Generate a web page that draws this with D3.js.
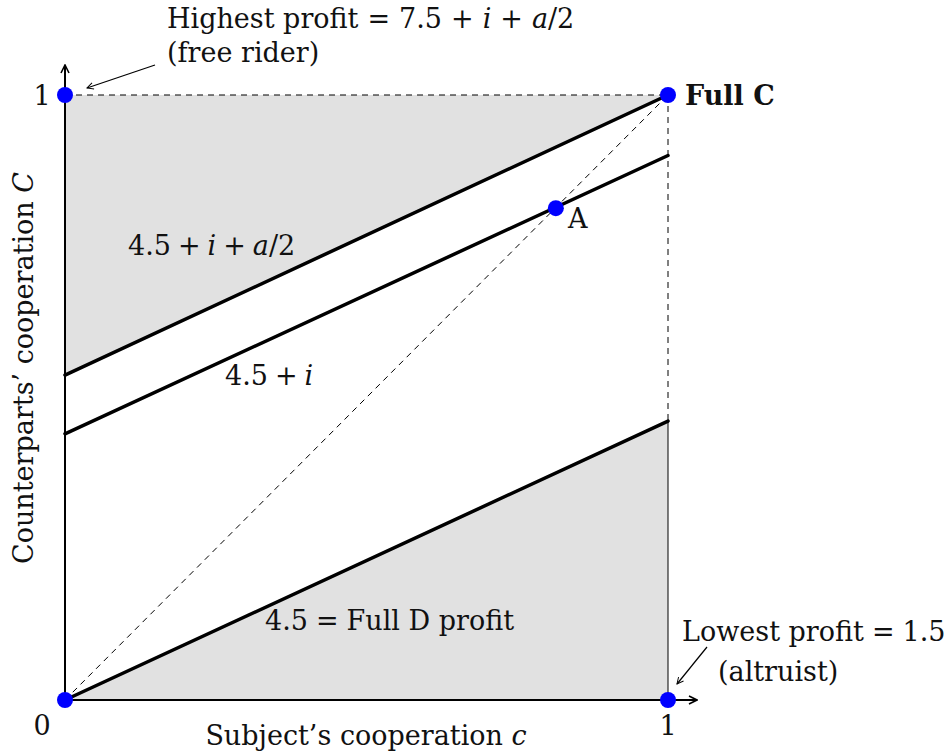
<!DOCTYPE html>
<html>
<head>
<meta charset="utf-8">
<script src="https://cdn.jsdelivr.net/npm/d3@7"></script>
<style>
  body { margin: 0; background: #fff; }
  text { font-family: "DejaVu Serif", "Liberation Serif", serif; fill: #111; }
</style>
</head>
<body>
<div class="chart"></div>
<script>
// boundary lines (profit levels): value of C at c = 0 and at c = 1
const lineNames = ["4.5 + i + a/2", "4.5 + i", "4.5"]
const lineStart = [0.537, 0.44, 0]
const lineEnd = [1, 0.9, 0.461]

// marked points
const pointC = [0, 1, 0, 1, 0.814]
const pointCC = [1, 1, 0, 0, 0.813]

const xTicks = [0, 1]
const yTicks = [1]

const width = 947
const height = 755
const fs = 27

const svg = d3.select('.chart').append('svg')
    .attr("width", width)
    .attr("height", height)

const x = d3.scaleLinear().domain([0, 1]).range([65, 668])
const y = d3.scaleLinear().domain([0, 1]).range([700, 95])

const line = d3.line().x(d => x(d[0])).y(d => y(d[1]))

// arrow marker
const defs = svg.append("defs")
defs.append("marker")
    .attr("id", "arr")
    .attr("viewBox", "0 0 10 10")
    .attr("refX", 9).attr("refY", 5)
    .attr("markerWidth", 10).attr("markerHeight", 10)
    .attr("markerUnits", "userSpaceOnUse")
    .attr("orient", "auto")
    .append("path")
    .attr("d", "M1,1 L9,5 L1,9")
    .attr("fill", "none")
    .attr("stroke", "#000")
    .attr("stroke-width", 1.6)
defs.append("marker")
    .attr("id", "arrs")
    .attr("viewBox", "0 0 10 10")
    .attr("refX", 9).attr("refY", 5)
    .attr("markerWidth", 8).attr("markerHeight", 8)
    .attr("markerUnits", "userSpaceOnUse")
    .attr("orient", "auto")
    .append("path")
    .attr("d", "M1,1 L9,5 L1,9")
    .attr("fill", "none")
    .attr("stroke", "#000")
    .attr("stroke-width", 1.2)

// SHADED REGIONS
svg.append("path")
    .attr("d", line([[0, lineStart[0]], [0, 1], [1, 1], [1, lineEnd[0]]]) + "Z")
    .attr("fill", "#e1e1e1")
svg.append("path")
    .attr("d", line([[0, lineStart[2]], [1, 0], [1, lineEnd[2]]]) + "Z")
    .attr("fill", "#e1e1e1")

// right edge of lower region (solid)
svg.append("path")
    .attr("d", line([[1, 0], [1, lineEnd[2]]]))
    .attr("stroke", "#000").attr("stroke-width", 1)

// DASHED GUIDES
const dashed = [
    [[0, 0], [1, 1]],
    [[0, 1], [1, 1]],
    [[1, 1], [1, lineEnd[2]]]
]
svg.append("g").selectAll("path")
    .data(dashed)
    .join("path")
    .attr("d", d => line(d))
    .attr("fill", "none")
    .attr("stroke", "#000")
    .attr("stroke-width", 1)
    .attr("stroke-dasharray", "6,5")

// AXES
svg.append("line")
    .attr("x1", x(0)).attr("y1", y(0))
    .attr("x2", x(1) + 29).attr("y2", y(0))
    .attr("stroke", "#000").attr("stroke-width", 2)
    .attr("marker-end", "url(#arr)")
svg.append("line")
    .attr("x1", x(0)).attr("y1", y(0))
    .attr("x2", x(0)).attr("y2", y(1) - 30)
    .attr("stroke", "#000").attr("stroke-width", 2)
    .attr("marker-end", "url(#arr)")

// BOUNDARY LINES
svg.append("g").selectAll("path")
    .data(lineNames)
    .join("path")
    .attr("d", (d, i) => line([[0, lineStart[i]], [1, lineEnd[i]]]))
    .attr("stroke", "#000")
    .attr("stroke-width", 3.5)
    .attr("stroke-linecap", "round")

// POINTS
svg.append("g").selectAll("circle")
    .data(pointC)
    .join("circle")
    .attr("cx", d => x(d))
    .attr("cy", (d, i) => y(pointCC[i]))
    .attr("r", 8)
    .attr("fill", "#0000ff")

// TICK LABELS
svg.append("g").selectAll("text")
    .data(xTicks)
    .join("text")
    .attr("x", d => d === 0 ? x(d) - 23 : x(d))
    .attr("y", 735)
    .attr("text-anchor", "middle")
    .attr("font-size", fs)
    .text(d => d)
svg.append("g").selectAll("text")
    .data(yTicks)
    .join("text")
    .attr("x", 42)
    .attr("y", d => y(d) + 10)
    .attr("text-anchor", "middle")
    .attr("font-size", fs)
    .text(d => d)

// AXIS TITLES
const xt = svg.append("text")
    .attr("x", 366).attr("y", 745)
    .attr("text-anchor", "middle")
    .attr("font-size", fs)
xt.append("tspan").text("Subject’s cooperation ")
xt.append("tspan").attr("font-style", "italic").text("c")

const yt = svg.append("text")
    .attr("transform", "translate(33,368) rotate(-90)")
    .attr("text-anchor", "middle")
    .attr("font-size", fs)
yt.append("tspan").text("Counterparts’ cooperation ")
yt.append("tspan").attr("font-style", "italic").text("C")

// ANNOTATIONS (math-like: italic variables, wider gaps round operators)
function mathText(sel, parts) {
    parts.forEach(p => {
        const t = sel.append("tspan")
            .attr("font-style", p[1] === 1 ? "italic" : null)
            .text(p[0])
        if (p[1] === 2) t.attr("dx", 6)
    })
}

const t1 = svg.append("text").attr("x", 167).attr("y", 28).attr("font-size", fs)
mathText(t1, [["Highest profit"], ["=", 2], ["7.5", 2], ["+", 2], ["i", 1], ["+", 2], ["a", 1], ["/2"]])
t1.selectAll("tspan").filter((d, i) => i >= 1 && i !== 6 && i !== 7 && i !== 4).attr("dx", 9)
t1.selectAll("tspan").filter((d, i) => i === 4 || i === 6).attr("dx", 9)
svg.append("text").attr("x", 167).attr("y", 62).attr("font-size", fs).text("(free rider)")

svg.append("text").attr("x", 685).attr("y", 105)
    .attr("font-size", fs).attr("font-weight", "bold").text("Full C")

svg.append("text").attr("x", 568).attr("y", 228).attr("font-size", fs).text("A")

const t2 = svg.append("text").attr("x", 128).attr("y", 255).attr("font-size", fs)
mathText(t2, [["4.5"], ["+", 2], ["i", 1], ["+", 2], ["a", 1], ["/2"]])
t2.selectAll("tspan").filter((d, i) => i >= 1 && i <= 4).attr("dx", 7)

const t3 = svg.append("text").attr("x", 225).attr("y", 385).attr("font-size", fs)
mathText(t3, [["4.5"], ["+", 2], ["i", 1]])
t3.selectAll("tspan").filter((d, i) => i >= 1).attr("dx", 7)

const t4 = svg.append("text").attr("x", 265).attr("y", 630).attr("font-size", fs)
mathText(t4, [["4.5"], ["="], ["Full D profit"]])
t4.selectAll("tspan").filter((d, i) => i >= 1).attr("dx", 8)

const t5 = svg.append("text").attr("x", 682).attr("y", 641).attr("font-size", fs)
mathText(t5, [["Lowest profit"], ["="], ["1.5"]])
t5.selectAll("tspan").filter((d, i) => i >= 1).attr("dx", 8)
svg.append("text").attr("x", 718).attr("y", 681).attr("font-size", fs).text("(altruist)")

svg.append("line")
    .attr("x1", 155).attr("y1", 65).attr("x2", 87).attr("y2", 88)
    .attr("stroke", "#000").attr("stroke-width", 1.2)
    .attr("marker-end", "url(#arrs)")
svg.append("line")
    .attr("x1", 707).attr("y1", 647).attr("x2", 677).attr("y2", 684)
    .attr("stroke", "#000").attr("stroke-width", 1.2)
    .attr("marker-end", "url(#arrs)")
</script>
</body>
</html>
